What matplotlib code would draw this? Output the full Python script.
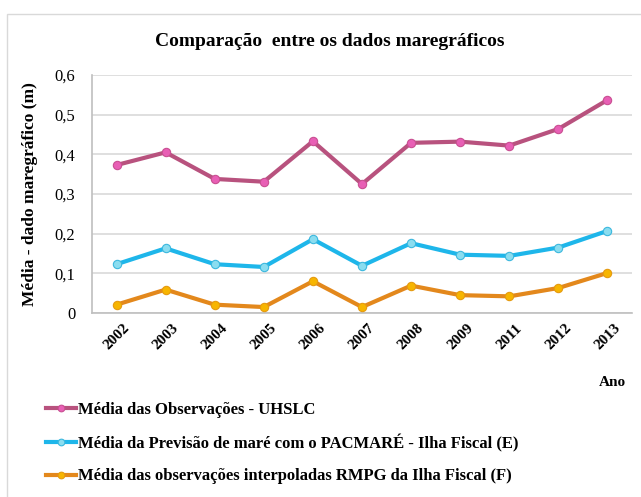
import matplotlib
matplotlib.use('Agg')
import numpy as np
import matplotlib.pyplot as plt
from matplotlib.patches import Rectangle

#==========================================================
# Data (annual mean sea level, m)
#==========================================================
anos = ['2002', '2003', '2004', '2005', '2006', '2007', '2008', '2009', '2011', '2012', '2013']
uhslc = [0.373, 0.405, 0.338, 0.331, 0.433, 0.325, 0.429, 0.432, 0.422, 0.464, 0.537]
pacmare = [0.123, 0.163, 0.123, 0.116, 0.186, 0.119, 0.176, 0.147, 0.144, 0.165, 0.207]
rmpg = [0.021, 0.059, 0.021, 0.015, 0.080, 0.015, 0.069, 0.045, 0.042, 0.063, 0.101]

plt.rcParams['font.family'] = ['Liberation Serif', 'DejaVu Serif']

fig = plt.figure(figsize=(6.41, 4.97), dpi=100)
# chart frame
fig.patches.append(Rectangle((7/641, -0.01), 1.0, 1-14/497+0.01, transform=fig.transFigure,
                             fill=False, edgecolor='#D9D9D9', linewidth=1.0))

ax = fig.add_axes([92/641, 1-313/497, (632-92)/641, (313-75)/497])
x = np.arange(len(anos))

l1, = ax.plot(x, uhslc, color='#B8527E', linewidth=3, marker='o', markersize=6,
              markerfacecolor='#E85FB5', markeredgecolor='#C94F92', markeredgewidth=0.8, zorder=5)
l2, = ax.plot(x, pacmare, color='#1EB6EA', linewidth=3, marker='o', markersize=6,
              markerfacecolor='#8ADDF0', markeredgecolor='#3CB8DE', markeredgewidth=0.8, zorder=5)
l3, = ax.plot(x, rmpg, color='#E3881C', linewidth=3, marker='o', markersize=6,
              markerfacecolor='#F7B500', markeredgecolor='#E59A10', markeredgewidth=0.8, zorder=5)

ax.set_xlim(-0.5, len(anos) - 0.5)
ax.set_ylim(0, 0.6)
yt = np.arange(0, 0.61, 0.1)
ax.set_yticks(yt)
ax.set_yticklabels(['0', '0,1', '0,2', '0,3', '0,4', '0,5', '0,6'], fontsize=12)
ax.set_xticks(x)
ax.set_xticklabels(anos, rotation=45, fontsize=11, fontweight='bold', ha='center')
ax.tick_params(axis='both', length=0, pad=12)
ax.tick_params(axis='x', pad=6)
ax.grid(axis='y', color='#D9D9D9', linewidth=1.2, zorder=0)
for s in ['top', 'right']:
    ax.spines[s].set_visible(False)
ax.spines['left'].set_color('#BFBFBF')
ax.spines['bottom'].set_color('#BFBFBF')
ax.spines['left'].set_linewidth(1.2)
ax.spines['bottom'].set_linewidth(1.2)

ax.set_ylabel('Média - dado maregráfico (m)', fontsize=12.5, fontweight='bold', labelpad=12)

fig.text(330/641, 1-42/497, 'Comparação  entre os dados maregráficos', fontsize=14,
         fontweight='bold', ha='center', va='center')
fig.text(612/641, 1-383/497, 'Ano', fontsize=11, fontweight='bold', ha='center', va='center')

leg = fig.legend([l1, l2, l3],
                 ['Média das Observações - UHSLC',
                  'Média da Previsão de maré com o PACMARÉ - Ilha Fiscal (E)',
                  'Média das observações interpoladas RMPG da Ilha Fiscal (F)'],
                 loc='upper left', bbox_to_anchor=(31/641, 1-387/497), frameon=False,
                 prop={'weight': 'bold', 'size': 12}, handlelength=1.8,
                 handletextpad=0.1, labelspacing=0.97, markerscale=0.8)

plt.savefig('out.png', dpi=100)
